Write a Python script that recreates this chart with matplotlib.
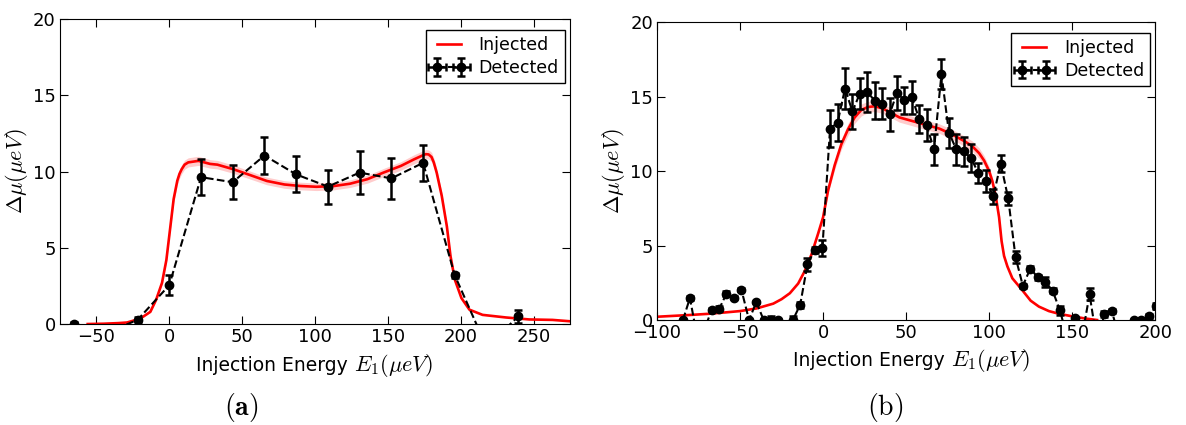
import numpy as np
import matplotlib
matplotlib.use('Agg')
import matplotlib.pyplot as plt

plt.rcParams['font.family'] = 'DejaVu Sans'
plt.rcParams['mathtext.fontset'] = 'cm'
plt.rcParams['font.size'] = 12

# ---- panel (a) ----
# detected points (some sit below 0 and are clipped, like in the original)
det_a_x = [-65.3, -43.5, -21.8, 0.0, 21.8, 43.5, 65.3, 87.1, 108.9, 130.6,
           152.4, 174.2, 195.9, 217.7, 239.5]
det_a_y = [0.0, -0.6, 0.27, 2.55, 9.63, 9.3, 11.05, 9.81, 9.01, 9.93,
           9.55, 10.57, 3.2, -1.5, 0.5]
det_a_err = [0.1, 0.0, 0.17, 0.65, 1.17, 1.1, 1.2, 1.18, 1.12, 1.42,
             1.33, 1.16, 0.17, 0.0, 0.42]

# injected curve
inj_a_x = [-56, -45, -35, -29, -20, -13, -9, -5, -2, 0, 3, 5.5, 7, 8.5, 10.5,
           13, 20, 28, 33, 44, 56, 67, 79, 90, 101, 113, 124, 136, 147, 159,
           168, 173, 176, 178, 180, 181.5, 183.5, 187, 190.5, 193, 196, 200.5,
           206, 215, 231, 247, 263, 275]
inj_a_y = [0, 0.02, 0.06, 0.1, 0.35, 0.8, 1.6, 2.7, 4.2, 5.8, 8.2, 9.4, 9.85,
           10.15, 10.45, 10.6, 10.7, 10.5, 10.45, 10.15, 9.75, 9.38, 9.15, 9.05,
           9.0, 9.05, 9.2, 9.5, 9.93, 10.37, 10.8, 11.02, 11.14, 11.12, 10.95,
           10.6, 9.93, 8.4, 6.4, 4.45, 2.9, 1.7, 0.94, 0.6, 0.43, 0.3, 0.27, 0.18]
inj_a_band = [0, 0, 0, 0, 0.02, 0.04, 0.06, 0.1, 0.15, 0.2, 0.25, 0.28, 0.3,
              0.3, 0.3, 0.3, 0.3, 0.28, 0.28, 0.27, 0.26, 0.25, 0.25, 0.25,
              0.25, 0.25, 0.25, 0.26, 0.27, 0.28, 0.3, 0.3, 0.3, 0.3, 0.3, 0.3,
              0.28, 0.25, 0.2, 0.15, 0.1, 0.06, 0.03, 0.02, 0.01, 0.01, 0.01,
              0.01]

# ---- panel (b) ----
det_b_x = [-84.4, -80.2, -75.9, -71.4, -67.0, -62.5, -58.2, -53.8, -49.2, -44.6,
           -40.2, -35.8, -31.4, -27.0, -22.6, -18.2, -13.8, -9.4, -4.9, -0.4,
           4.2, 8.7, 13.2, 17.7, 22.1, 26.6, 31.1, 35.6, 40.0, 44.5,
           49.0, 53.5, 57.9, 62.3, 66.8, 71.3, 75.8, 80.2, 84.7, 89.1,
           93.6, 98.0, 102.5, 107.0, 111.5, 115.9, 120.3, 124.8, 129.3, 133.7,
           138.2, 142.6, 147.1, 151.6, 156.0, 160.5, 165.0, 169.4, 173.9, 178.3,
           182.8, 187.2, 191.7, 196.2, 200.6]
det_b_y = [0.0, 1.48, -1.1, -0.6, 0.7, 0.76, 1.77, 1.5, 2.04, 0.0,
           1.21, 0.0, 0.0, 0.0, -0.8, 0.0, 1.02, 3.74, 4.73, 4.85,
           12.85, 13.24, 15.53, 14.0, 15.2, 15.32, 14.72, 14.52, 13.81, 15.24,
           14.76, 14.94, 13.5, 13.07, 11.48, 16.5, 12.58, 11.46, 11.32, 10.88,
           9.84, 9.34, 8.3, 10.5, 8.16, 4.23, 2.3, 3.45, 2.87, 2.57,
           1.98, 0.66, -1.2, 0.12, -1.1, 1.72, -1.5, 0.38, 0.61, -1.2,
           -1.5, 0.0, 0.0, 0.25, 0.92]
det_b_err = [0.1, 0.15, 0.0, 0.0, 0.1, 0.15, 0.15, 0.1, 0.1, 0.1,
             0.1, 0.1, 0.3, 0.1, 0.0, 0.3, 0.2, 0.45, 0.2, 0.55,
             1.23, 1.23, 1.36, 1.2, 1.03, 1.34, 1.23, 1.05, 1.12, 1.17,
             0.9, 1.08, 0.95, 1.07, 1.04, 1.0, 1.0, 1.06, 0.97, 0.97,
             0.67, 0.74, 0.5, 0.58, 0.45, 0.4, 0.15, 0.15, 0.15, 0.33,
             0.15, 0.3, 0.0, 0.1, 0.0, 0.4, 0.0, 0.2, 0.15, 0.0,
             0.0, 0.1, 0.1, 0.15, 0.2]

inj_b_x = [-100, -90, -80, -70, -60, -50, -40, -30, -25, -20, -15, -11, -7, -3,
           0, 3, 7, 11, 15, 19, 23, 27, 31, 36, 41, 46, 54, 62, 70, 78, 86, 90,
           94, 97, 100, 102, 104, 106, 107.5, 109, 111, 114, 117, 120, 125, 130,
           136, 142, 150, 158, 165]
inj_b_y = [0.22, 0.28, 0.34, 0.41, 0.5, 0.6, 0.78, 1.1, 1.4, 1.8, 2.45, 3.3,
           4.4, 5.8, 6.9, 8.7, 10.4, 11.8, 12.8, 13.6, 14.1, 14.3, 14.35, 14.2,
           13.9, 13.6, 13.35, 13.1, 12.85, 12.45, 11.95, 11.65, 11.2, 10.7, 10.0,
           9.3, 8.3, 6.9, 5.3, 4.3, 3.6, 2.8, 2.4, 2.0, 1.3, 0.9, 0.6, 0.42, 0.25,
           0.1, 0.0]
inj_b_band = [0, 0, 0, 0, 0, 0, 0, 0, 0, 0, 0, 0, 0.05, 0.1, 0.15, 0.2, 0.3,
              0.35, 0.4, 0.4, 0.4, 0.38, 0.35, 0.33, 0.32, 0.32, 0.32, 0.32,
              0.32, 0.33, 0.35, 0.35, 0.35, 0.33, 0.3, 0.28, 0.25, 0.22, 0.2,
              0.15, 0.1, 0.06, 0.03, 0.03, 0.03, 0.03, 0.03, 0.03, 0.03, 0.03,
              0.03]

panels = [
    (det_a_x, det_a_y, det_a_err, inj_a_x, inj_a_y, inj_a_band,
     (-75, 275), [-50, 0, 50, 100, 150, 200, 250], r'$\mathbf{(a)}$'),
    (det_b_x, det_b_y, det_b_err, inj_b_x, inj_b_y, inj_b_band,
     (-100, 200), [-100, -50, 0, 50, 100, 150, 200], r'$\mathrm{(b)}$'),
]
rects = [[0.0506, 0.2376, 0.430, 0.7176], [0.554, 0.247, 0.420, 0.701]]
tag_x = [0.203, 0.746]
# x label is split: plain text part + larger math part (as in the original)
label_split = [0.2985, 0.8015]
label_base = [0.128, 0.138]

fig = plt.figure(figsize=(11.86, 4.25), dpi=100)

for i, (dx, dy, de, ix, iy, ib, xlim, xt, tag) in enumerate(panels):
    ax = fig.add_axes(rects[i])
    ix = np.array(ix)
    iy = np.array(iy)
    ib = np.array(ib)
    ax.fill_between(ix, iy - ib, iy + ib, color='red', alpha=0.2, lw=0)
    ax.plot(ix, iy, color='red', lw=1.9, label='Injected')
    ax.errorbar(dx, dy, yerr=de, xerr=np.zeros(len(dx)), fmt='o--',
                color='black', ms=6, lw=1.5, elinewidth=1.8, capsize=3,
                capthick=1.8, label='Detected')
    ax.set_xlim(*xlim)
    ax.set_ylim(0, 20)
    ax.set_xticks(xt)
    ax.set_yticks([0, 5, 10, 15, 20])
    ax.tick_params(direction='in', top=True, right=True, length=6,
                   labelsize=13, pad=3)
    ax.set_ylabel(r'$\Delta\mu(\mu eV)$', fontsize=16, labelpad=2)
    fig.text(label_split[i], label_base[i], 'Injection Energy ', fontsize=13.5,
             ha='right', va='baseline')
    fig.text(label_split[i], label_base[i], r'$E_1(\mu eV)$', fontsize=16,
             ha='left', va='baseline')
    leg = ax.legend(loc='upper right', bbox_to_anchor=(0.99, 0.965),
                    borderaxespad=0, numpoints=2, fancybox=False,
                    fontsize=12.5, framealpha=1, edgecolor='black',
                    labelspacing=0.3, borderpad=0.35, handletextpad=0.7)
    leg.get_frame().set_linewidth(1.0)
    fig.text(tag_x[i], 0.04, tag, fontsize=20, ha='center', va='center')

plt.savefig('out.png', dpi=100)
